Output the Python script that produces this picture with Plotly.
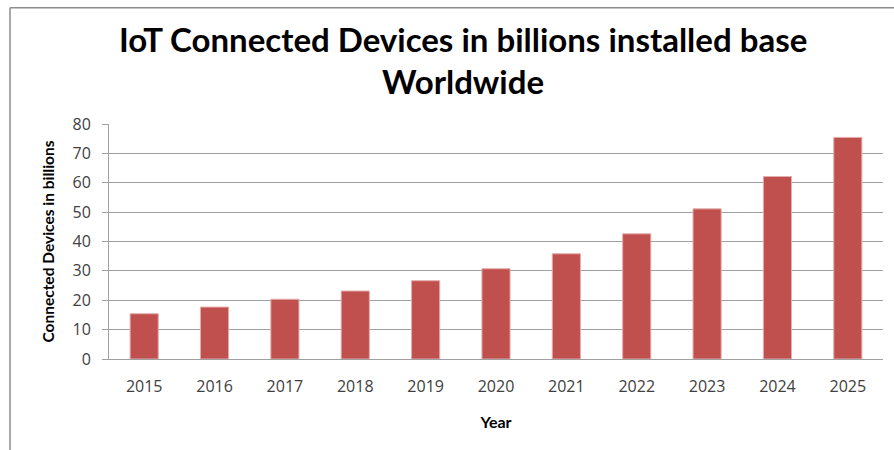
import plotly.graph_objects as go

years = ["2015", "2016", "2017", "2018", "2019", "2020", "2021", "2022", "2023", "2024", "2025"]
devices = [15.41, 17.68, 20.35, 23.14, 26.66, 30.73, 35.82, 42.62, 51.11, 62.12, 75.44]
y_ticks = [0, 10, 20, 30, 40, 50, 60, 70, 80]

title_line1 = "IoT Connected Devices in billions installed base"
title_line2 = "Worldwide"
x_title = "Year"
y_title = "Connected Devices in billions"

FONT = "Lato"
TICKFONT = "Open Sans"
TXT = "#404040"
GRID = "#A0A0A0"

fig = go.Figure(
    go.Bar(
        x=years,
        y=devices,
        marker=dict(color="#C0504D", line=dict(color="#E3AEAC", width=1)),
    )
)

title_x = (463 - 109) / 774

fig.update_layout(
    width=894,
    height=450,
    margin=dict(l=109, r=11, t=124, b=91),
    paper_bgcolor="white",
    plot_bgcolor="white",
    bargap=0.6,
    showlegend=False,
    font=dict(family=FONT, color=TXT),
    annotations=[
        dict(text="<b>" + title_line1 + "</b>", xref="paper", yref="paper",
             x=title_x, y=(358.7 - 61) / 234.7, xanchor="center", yanchor="bottom",
             showarrow=False, font=dict(family=FONT, size=33, color="black")),
        dict(text="<b>" + title_line2 + "</b>", xref="paper", yref="paper",
             x=title_x, y=(358.7 - 103) / 234.7, xanchor="center", yanchor="bottom",
             showarrow=False, font=dict(family=FONT, size=33, color="black")),
    ],
    shapes=[
        dict(type="line", xref="paper", yref="paper",
             x0=(10 - 109) / 774, x1=(900 - 109) / 774,
             y0=(358.7 - 8) / 234.7, y1=(358.7 - 8) / 234.7,
             line=dict(color="#8C8C8C", width=1.5)),
        dict(type="line", xref="paper", yref="paper",
             x0=(10 - 109) / 774, x1=(10 - 109) / 774,
             y0=(358.7 - 8) / 234.7, y1=(358.7 - 460) / 234.7,
             line=dict(color="#8C8C8C", width=1.5)),
    ],
)

fig.update_xaxes(
    type="category",
    showgrid=False,
    showline=True,
    linecolor=GRID,
    linewidth=1,
    ticks="",
    tickfont=dict(family=TICKFONT, size=16, color=TXT),
    ticklabelstandoff=13,
    title=dict(text="<b>" + x_title + "</b>", font=dict(family=FONT, size=16, color="black"), standoff=20),
)

fig.update_yaxes(
    range=[0, 80],
    tickvals=y_ticks,
    showgrid=True,
    gridcolor=GRID,
    gridwidth=1,
    showline=True,
    linecolor=GRID,
    linewidth=1,
    zeroline=False,
    ticks="outside",
    ticklen=6,
    tickcolor=GRID,
    tickfont=dict(family=TICKFONT, size=16, color=TXT),
    ticklabelstandoff=8,
    title=dict(text="<b>" + y_title + "</b>", font=dict(family=FONT, size=15.5, color="black"), standoff=14),
)

fig.write_html("out.html")
